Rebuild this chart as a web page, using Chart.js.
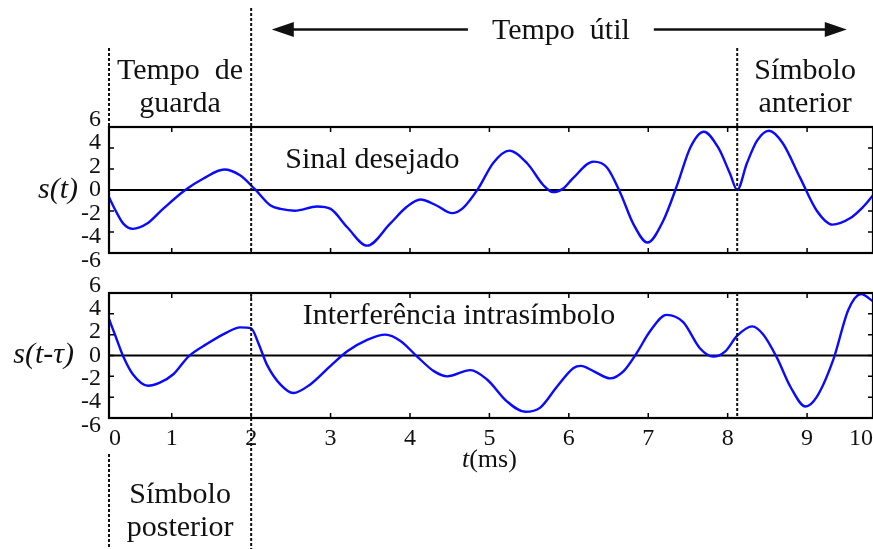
<!DOCTYPE html>
<html>
<head>
<meta charset="utf-8">
<script src="https://cdn.jsdelivr.net/npm/chart.js@4.4.0/dist/chart.umd.min.js"></script>
<style>
  html, body { margin: 0; padding: 0; background: #fff; }
  #wrap { position: relative; width: 873px; height: 549px; overflow: hidden; }
  #wrap canvas { position: absolute; left: 0; top: 0; }
</style>
</head>
<body>
<div id="wrap">
  <canvas id="topChart" width="873" height="549"></canvas>
  <canvas id="bottomChart" width="873" height="549"></canvas>
</div>
<script>
// s(t): desired signal, t in ms
const tDesired = [0.21, 0.31, 0.39, 0.51, 0.69, 0.89, 1.17, 1.40, 1.66, 1.86, 2.05, 2.24, 2.37, 2.55, 2.83, 3.00,
  3.21, 3.46, 3.75, 3.96, 4.13, 4.34, 4.53, 4.67, 4.86, 5.05, 5.25, 5.48, 5.68, 5.80, 5.93, 6.05,
  6.31, 6.48, 6.65, 6.81, 6.99, 7.19, 7.37, 7.53, 7.70, 7.88, 8.03, 8.12, 8.24, 8.37, 8.52, 8.69,
  8.91, 9.12, 9.32, 9.54, 9.70, 9.83];
const sDesired = [-0.7, -2.2, -3.2, -3.7, -3.2, -1.8, 0.0, 1.1, 1.95, 1.4, 0.05, -1.45, -1.8, -1.97, -1.57, -1.8,
  -3.55, -5.3, -3.2, -1.6, -0.9, -1.5, -2.2, -1.7, 0.15, 2.6, 3.75, 2.5, 0.45, -0.2, 0.15, 1.1,
  2.7, 2.15, -0.3, -3.2, -5.0, -2.9, 0.6, 4.05, 5.55, 4.05, 1.55, 0.0, 2.5, 4.7, 5.65, 4.5,
  1.2, -1.95, -3.3, -2.7, -1.65, -0.5];

// s(t-tau): delayed copy, intersymbol interference
const tDelayed = [0.21, 0.29, 0.39, 0.51, 0.70, 0.85, 1.02, 1.21, 1.44, 1.69, 1.86, 2.00, 2.09, 2.20, 2.37, 2.53,
  2.74, 3.00, 3.21, 3.46, 3.69, 3.88, 4.09, 4.30, 4.47, 4.76, 4.97, 5.22, 5.45, 5.64, 5.85, 6.06,
  6.15, 6.31, 6.52, 6.69, 6.86, 7.02, 7.23, 7.44, 7.65, 7.82, 7.97, 8.12, 8.31, 8.45, 8.62, 8.79,
  8.98, 9.12, 9.33, 9.52, 9.68, 9.83];
const sDelayed = [3.5, 1.9, -0.1, -1.8, -2.9, -2.6, -1.8, -0.1, 1.1, 2.2, 2.7, 2.6, 1.2, -0.9, -2.8, -3.6,
  -2.8, -1.0, 0.4, 1.5, 2.0, 1.4, -0.1, -1.5, -2.0, -1.4, -2.3, -4.4, -5.4, -5.0, -3.0, -1.2,
  -1.0, -1.5, -2.2, -1.5, 0.3, 2.3, 3.9, 3.2, 0.7, -0.1, 0.4, 1.9, 2.8, 2.0, -0.2, -3.0,
  -4.9, -4.0, -0.4, 4.4, 5.9, 5.2];

// axes
const xMin = 0.21, xMax = 9.83;
const xTickValues = [xMin, 1, 2, 3, 4, 5, 6, 7, 8, 9, xMax];
const xTickLabels = ["0", "1", "2", "3", "4", "5", "6", "7", "8", "9", "10"];
const yTickValues = [-6, -4, -2, 0, 2, 4, 6];
// the amplitude labels are set a little wider apart than the tick marks
const yLabelSpread = 1.12;

// symbol boundaries (ms)
const guardEnd = 2;
const prevSymbolStart = 8.12;
const arrowFrom = 2.26, arrowTo = 9.5, arrowLabelAt = 5.9;

const SERIF = '"Liberation Serif", "Times New Roman", serif';

// box, zero line and inward tick marks of each panel
const framePlugin = {
  id: 'frame',
  beforeDatasetsDraw(chart) {
    const {ctx, chartArea: a, scales: {y}} = chart;
    const y0 = y.getPixelForValue(0);
    ctx.save();
    ctx.strokeStyle = '#000';
    ctx.lineWidth = 1.8;
    ctx.beginPath();
    ctx.moveTo(a.left, y0);
    ctx.lineTo(a.right, y0);
    ctx.stroke();
    ctx.restore();
  },
  afterDraw(chart) {
    const {ctx, chartArea: a, scales: {x, y}} = chart;
    const len = 5;
    ctx.save();
    ctx.strokeStyle = '#000';
    ctx.lineWidth = 2.2;
    ctx.strokeRect(a.left, a.top, a.right - a.left, a.bottom - a.top);
    ctx.lineWidth = 1.5;
    ctx.beginPath();
    xTickValues.slice(1, -1).forEach(v => {
      const px = x.getPixelForValue(v);
      ctx.moveTo(px, a.top); ctx.lineTo(px, a.top + len);
      ctx.moveTo(px, a.bottom); ctx.lineTo(px, a.bottom - len);
    });
    yTickValues.slice(1, -1).forEach(v => {
      const py = y.getPixelForValue(v);
      ctx.moveTo(a.left, py); ctx.lineTo(a.left + len, py);
      ctx.moveTo(a.right, py); ctx.lineTo(a.right - len, py);
    });
    ctx.stroke();
    ctx.restore();
  }
};

function yScales() {
  const lim = 6 / yLabelSpread;
  return {
    y: {min: -6, max: 6, display: false},
    yl: {
      position: 'left',
      min: -lim, max: lim,
      afterBuildTicks: s => { s.ticks = yTickValues.map(v => ({value: v})); },
      afterFit: s => { s.width = 109; s.paddingTop = 0; s.paddingBottom = 0; },
      grid: {display: false, drawTicks: false},
      border: {display: false},
      ticks: {color: '#111', padding: 8, autoSkip: false, font: {family: SERIF, size: 24}}
    }
  };
}

function xScale(show) {
  return {
    type: 'linear',
    min: xMin, max: xMax,
    display: show,
    afterBuildTicks: s => { s.ticks = xTickValues.map(v => ({value: v})); },
    afterFit: s => {
      if (show) s.height = 40;
      s.paddingLeft = 0;
      s.paddingRight = 0;
    },
    grid: {display: false, drawTicks: false},
    border: {display: false},
    ticks: {
      color: '#111', padding: 6, align: 'inner', maxRotation: 0, autoSkip: false,
      font: {family: SERIF, size: 24},
      callback: (v, i) => xTickLabels[i]
    }
  };
}

function series(ts, ss) {
  return {
    data: ts.map((t, i) => ({x: t, y: ss[i]})),
    yAxisID: 'y',
    borderColor: '#0a0aff',
    borderWidth: 2.4,
    pointRadius: 0,
    cubicInterpolationMode: 'monotone',
    fill: false
  };
}

const baseOptions = {
  responsive: false,
  animation: false,
  devicePixelRatio: 1,
  plugins: {legend: {display: false}, tooltip: {enabled: false}}
};

const topChart = new Chart(document.getElementById('topChart'), {
  type: 'line',
  data: {datasets: [series(tDesired, sDesired)]},
  options: Object.assign({}, baseOptions, {
    layout: {padding: {top: 127, bottom: 296, left: 0, right: 0}},
    scales: Object.assign({x: xScale(false)}, yScales())
  }),
  plugins: [framePlugin, {
    id: 'topText',
    afterDraw(chart) {
      const {ctx, scales: {x, y}} = chart;
      ctx.save();
      ctx.fillStyle = '#111';
      ctx.font = '30px ' + SERIF;
      ctx.textBaseline = 'alphabetic';
      ctx.textAlign = 'left';
      ctx.fillText('Sinal desejado', x.getPixelForValue(2.43), y.getPixelForValue(2.05));
      ctx.font = 'italic 30px ' + SERIF;
      ctx.textAlign = 'right';
      ctx.textBaseline = 'middle';
      ctx.fillText('s(t)', 78, y.getPixelForValue(0));
      ctx.restore();
    }
  }]
});

// guard interval, useful time and neighbouring symbols
const annotPlugin = {
  id: 'annot',
  afterDraw(chart) {
    const {ctx, scales: {x, y}} = chart;
    const top = topChart.chartArea, bot = chart.chartArea;
    const xl = x.getPixelForValue(xMin);
    const xg = x.getPixelForValue(guardEnd);
    const xp = x.getPixelForValue(prevSymbolStart);
    const H = chart.height;
    ctx.save();
    ctx.strokeStyle = '#111';
    ctx.lineWidth = 2;
    ctx.setLineDash([3, 2]);
    const seg = (px, y1, y2) => {
      ctx.beginPath(); ctx.moveTo(px, y1); ctx.lineTo(px, y2); ctx.stroke();
    };
    seg(xl, 48, top.top); seg(xl, bot.bottom + 36, H);
    seg(xg, 8, top.bottom); seg(xg, bot.top, H);
    seg(xp, 48, top.bottom); seg(xp, bot.top, bot.bottom);
    ctx.setLineDash([]);

    // "Tempo útil" arrows
    ctx.fillStyle = '#111';
    ctx.font = '30px ' + SERIF;
    const label = 'Tempo  útil';
    const cx = x.getPixelForValue(arrowLabelAt);
    const half = ctx.measureText(label).width / 2;
    const ay = 29.5, gap = 24, headL = 22, headH = 7.5;
    const a1 = x.getPixelForValue(arrowFrom), a2 = x.getPixelForValue(arrowTo);
    ctx.lineWidth = 2.5;
    ctx.beginPath();
    ctx.moveTo(a1 + headL - 2, ay); ctx.lineTo(cx - half - gap, ay);
    ctx.moveTo(cx + half + gap, ay); ctx.lineTo(a2 - headL + 2, ay);
    ctx.stroke();
    ctx.beginPath();
    ctx.moveTo(a1, ay); ctx.lineTo(a1 + headL, ay - headH); ctx.lineTo(a1 + headL, ay + headH); ctx.closePath();
    ctx.moveTo(a2, ay); ctx.lineTo(a2 - headL, ay - headH); ctx.lineTo(a2 - headL, ay + headH); ctx.closePath();
    ctx.fill();
    ctx.textAlign = 'center';
    ctx.textBaseline = 'alphabetic';
    ctx.fillText(label, cx, 39);

    const mg = (xl + xg) / 2, mp = (xp + chart.chartArea.right) / 2;
    ctx.fillText('Tempo  de', mg, 79);
    ctx.fillText('guarda', mg, 112);
    ctx.fillText('Símbolo', mp, 79);
    ctx.fillText('anterior', mp, 112);
    ctx.fillText('Símbolo', mg, 503);
    ctx.fillText('posterior', mg, 536);

    ctx.textAlign = 'left';
    ctx.fillText('Interferência intrasímbolo', x.getPixelForValue(2.65), y.getPixelForValue(3.0));

    ctx.font = 'italic 30px ' + SERIF;
    ctx.textAlign = 'right';
    ctx.textBaseline = 'middle';
    ctx.fillText('s(t-τ)', 74, y.getPixelForValue(0));

    // time axis title
    ctx.textBaseline = 'alphabetic';
    ctx.textAlign = 'left';
    ctx.font = 'italic 26px ' + SERIF;
    const tW = ctx.measureText('t').width;
    ctx.font = '26px ' + SERIF;
    const uW = ctx.measureText('(ms)').width;
    const sx = x.getPixelForValue(5) - (tW + uW) / 2;
    ctx.fillText('(ms)', sx + tW, bot.bottom + 49);
    ctx.font = 'italic 26px ' + SERIF;
    ctx.fillText('t', sx, bot.bottom + 49);
    ctx.restore();
  }
};

const bottomChart = new Chart(document.getElementById('bottomChart'), {
  type: 'line',
  data: {datasets: [series(tDelayed, sDelayed)]},
  options: Object.assign({}, baseOptions, {
    layout: {padding: {top: 293, bottom: 91, left: 0, right: 0}},
    scales: Object.assign({x: xScale(true)}, yScales())
  }),
  plugins: [framePlugin, annotPlugin]
});
</script>
</body>
</html>
